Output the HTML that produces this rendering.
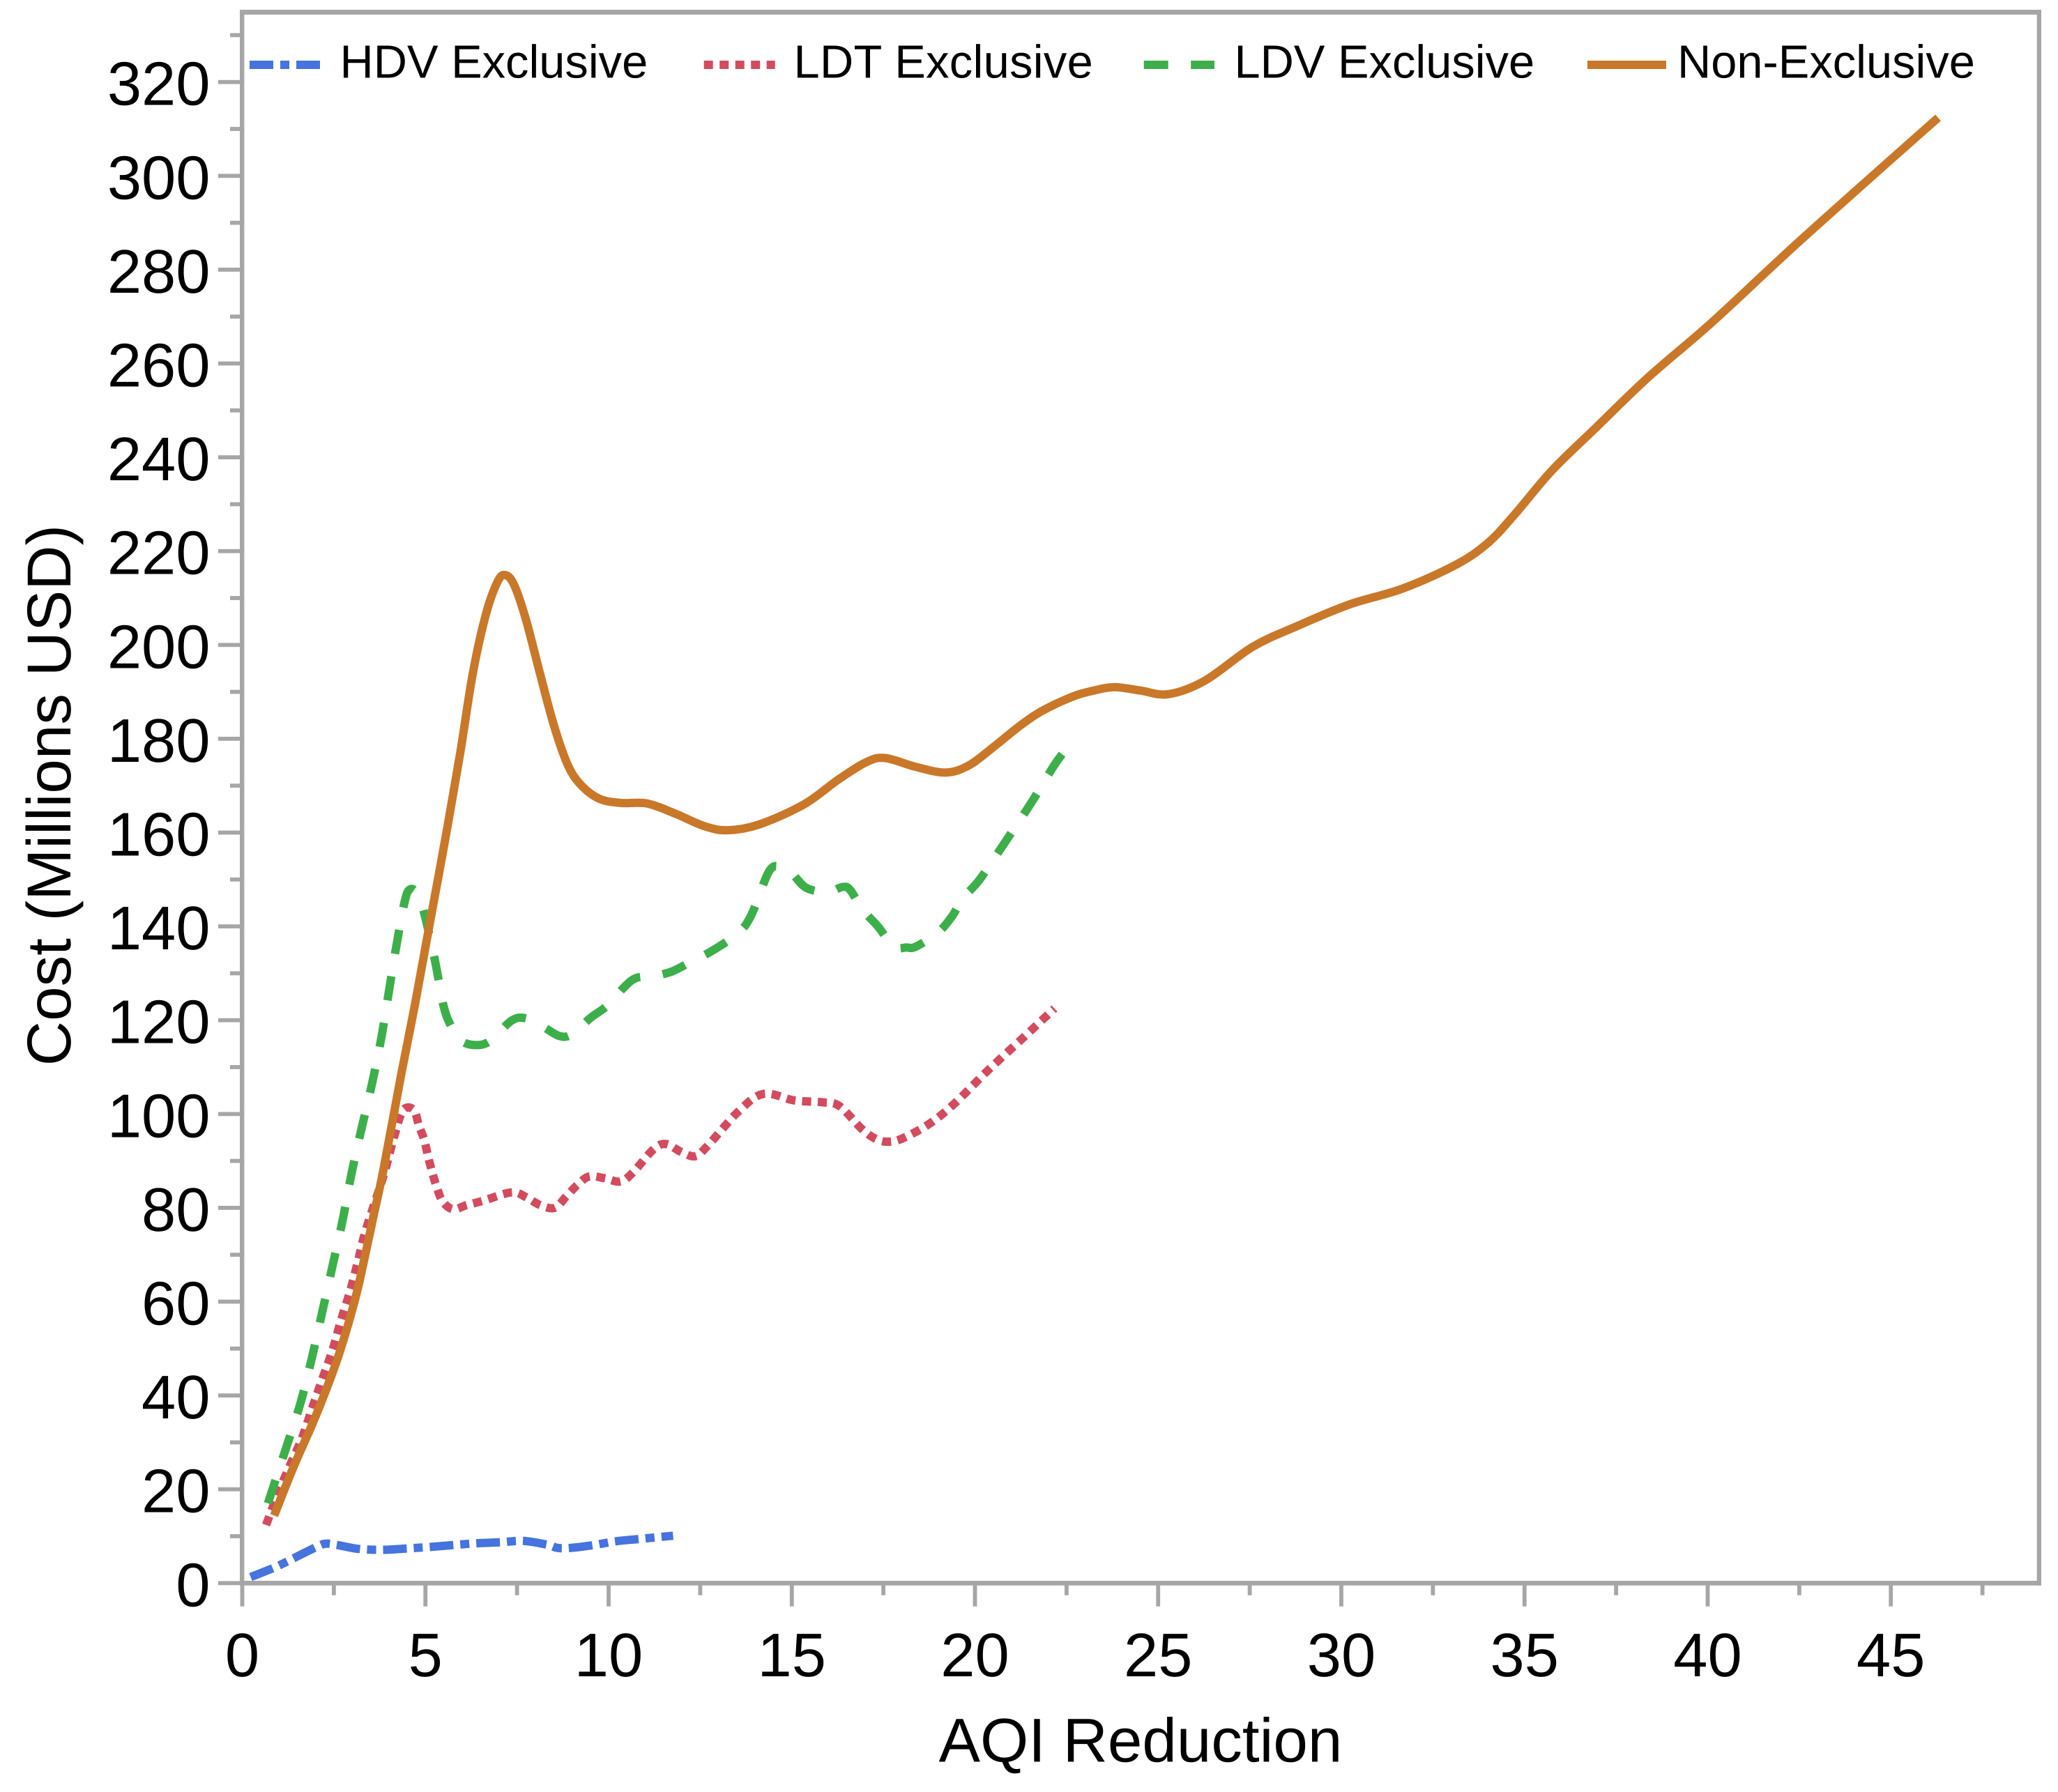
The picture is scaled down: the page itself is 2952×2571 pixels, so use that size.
<!DOCTYPE html>
<html lang="en">
<head>
<meta charset="utf-8">
<title>Cost vs AQI Reduction</title>
<style>
html,body{margin:0;padding:0;background:#fff;}
svg{display:block;}
text{font-family:"Liberation Sans",Arial,sans-serif;fill:#000;text-rendering:geometricPrecision;}
.tick-label{font-size:88.5px;}
.axis-title{font-size:89px;}
.legend-label{font-size:66.8px;}
</style>
</head>
<body>
<svg id="chart" xmlns="http://www.w3.org/2000/svg" width="2952" height="2571" viewBox="0 0 2952 2571">
  <rect x="0" y="0" width="2952" height="2571" fill="#ffffff"/>
  <g id="ticks"></g>
  <g id="series"></g>
  <g id="frame" fill="#a6a6a6">
    <rect x="344" y="14" width="2584" height="7"/>
    <rect x="2921.7" y="14" width="6.3" height="2260.7"/>
    <rect x="344" y="14" width="6.4" height="2260.7"/>
    <rect x="344" y="2268" width="2584" height="6.7"/>
  </g>
  <g id="legend">
    <g>
      <line x1="358" y1="93" x2="459" y2="93" stroke="#4673de" stroke-width="12" stroke-dasharray="34 10 13 10"/>
      <text class="legend-label" x="487.5" y="111.5">HDV Exclusive</text>
    </g>
    <g>
      <line x1="1009.7" y1="93" x2="1111.7" y2="93" stroke="#d34b5e" stroke-width="12" stroke-dasharray="13 9.5"/>
      <text class="legend-label" x="1138.5" y="111.5" style="letter-spacing:.3px">LDT Exclusive</text>
    </g>
    <g>
      <line x1="1640.7" y1="93" x2="1742" y2="93" stroke="#3daf4a" stroke-width="12" stroke-dasharray="35 32.5"/>
      <text class="legend-label" x="1770.5" y="111.5">LDV Exclusive</text>
    </g>
    <g>
      <line x1="2277" y1="93" x2="2390" y2="93" stroke="#c97829" stroke-width="12"/>
      <text class="legend-label" x="2406" y="111.5">Non-Exclusive</text>
    </g>
  </g>
  <text class="axis-title" x="1636" y="2527.5" text-anchor="middle">AQI Reduction</text>
  <text class="axis-title" x="0" y="0" text-anchor="middle" transform="translate(101 1141) rotate(-90)">Cost (Millions USD)</text>
</svg>
<script>
var xMajorTicks = [0, 5, 10, 15, 20, 25, 30, 35, 40, 45];
var xMinorTicks = [2.5, 7.5, 12.5, 17.5, 22.5, 27.5, 32.5, 37.5, 42.5, 47.5];
var yMajorTicks = [0, 20, 40, 60, 80, 100, 120, 140, 160, 180, 200, 220, 240, 260, 280, 300, 320];
var yMinorTicks = [10, 30, 50, 70, 90, 110, 130, 150, 170, 190, 210, 230, 250, 270, 290, 310, 330];

var hdvX = [0.23, 0.78, 1.12, 1.97, 2.27, 2.61, 3.16, 3.84, 4.52, 5.12, 5.75, 6.39, 7.03, 7.67, 8.31, 8.61, 8.95, 9.59, 10.18, 10.83, 11.76];
var hdvY = [1.3, 3, 4.2, 7.5, 8.4, 8.1, 7.3, 7.1, 7.4, 7.7, 8.1, 8.5, 8.7, 9, 8.2, 7.5, 7.5, 8.1, 8.9, 9.4, 10.1];

var ldtX = [0.65, 0.95, 1.29, 1.63, 1.9, 2.18, 2.46, 2.69, 2.95, 3.16, 3.37, 3.85, 4.15, 4.39, 4.68, 4.82, 4.97, 5.07, 5.18, 5.29, 5.46, 5.75, 6.13, 6.57, 7.35, 7.74, 8.13, 8.53, 8.85, 9.15, 9.47, 9.89, 10.32, 10.66, 11.24, 11.58, 11.96, 12.36, 12.7, 13.55, 14.23, 15.07, 15.84, 16.3, 16.9, 17.29, 17.65, 18.05, 18.77, 19.45, 20.34, 21.28, 22.17];
var ldtY = [12.4, 18.6, 24.9, 30.9, 37.1, 43.4, 49.6, 55.9, 62.4, 68.7, 75.2, 86.7, 95.3, 100.8, 100.9, 97.6, 94.4, 91, 87.7, 84.9, 81.5, 79.7, 80.6, 81.5, 83.3, 82.3, 80.6, 80, 82.5, 84.9, 86.7, 86.3, 85.6, 87.5, 92.6, 93.6, 92, 91, 93.2, 100.6, 104.3, 102.9, 102.5, 101.7, 96.9, 94.7, 94.1, 94.9, 98, 102.3, 109.2, 116, 122.5];

var ldvX = [0.7, 0.91, 1.2, 1.59, 1.9, 2.18, 2.46, 2.74, 2.98, 3.25, 3.54, 3.79, 4, 4.21, 4.44, 4.58, 4.78, 4.97, 5.26, 5.49, 5.69, 5.98, 6.38, 6.77, 7.35, 7.74, 8.23, 8.67, 9, 9.49, 9.98, 10.42, 10.75, 11.24, 11.73, 12.21, 12.87, 13.55, 13.9, 14.37, 14.67, 14.97, 15.4, 16, 16.38, 16.59, 16.93, 17.36, 17.78, 18.13, 18.39, 18.99, 19.37, 19.67, 20.13, 20.86, 21.54, 22.22, 22.72];
var ldvY = [17, 22, 28.9, 38.4, 48, 57.7, 67.5, 77.4, 87.2, 96.7, 106.4, 116, 126, 136, 145.5, 147.9, 147, 142.7, 132.7, 123.2, 118.9, 115.6, 114.7, 115.6, 119.9, 120.4, 118.5, 116.6, 117, 120.4, 123.2, 127, 129, 129.4, 130.4, 132.3, 135, 138.7, 142.5, 151.6, 152.8, 151.6, 148.2, 147.4, 148.4, 147.8, 143.6, 139.9, 135.7, 135.5, 135.7, 138.7, 142.1, 146, 150, 158.4, 166.4, 175, 179.9];

var nonX = [0.87, 1.38, 1.89, 2.23, 2.65, 3.08, 3.33, 3.59, 3.85, 4.34, 4.72, 5.12, 5.55, 5.95, 6.29, 6.65, 6.97, 7.18, 7.42, 7.74, 8.13, 8.52, 8.91, 9.3, 9.78, 10.36, 11.05, 11.83, 12.6, 13.24, 14.1, 15.33, 16.27, 17.03, 17.54, 18.39, 19.2, 19.83, 20.5, 21.2, 21.8, 22.64, 23.2, 23.8, 24.5, 25.28, 26.28, 27.58, 28.76, 30.21, 31.67, 33.13, 34.01, 34.73, 35.75, 36.92, 38.37, 40.12, 42.3, 44.5, 46.29];
var nonY = [14.4, 24.4, 33.5, 40, 49, 60.5, 69, 78.5, 88, 108.5, 123.6, 140.7, 159, 177, 193.8, 206.5, 213.5, 214.9, 212.8, 205.5, 193.8, 182.5, 174, 169.7, 167.1, 166.3, 166.2, 164, 161.4, 160.5, 161.7, 166, 171.3, 175, 175.9, 174, 172.8, 174.3, 178.2, 182.6, 185.8, 188.9, 190.2, 191, 190.3, 189.5, 192.4, 199.6, 203.9, 208.6, 212, 217.1, 221.8, 227.8, 237.2, 246.1, 257, 268.8, 284.6, 300, 312.4];

var SVG_NS = 'http://www.w3.org/2000/svg';

function xScale(v) { return 347.5 + v * 52.55; }
function yScale(v) { return 2271.3 - v * 6.73; }

function smoothPath(xs, ys) {
  var px = xs.map(xScale);
  var py = ys.map(yScale);
  var d = 'M' + px[0].toFixed(2) + ' ' + py[0].toFixed(2);
  for (var i = 0; i < px.length - 1; i++) {
    var a = Math.max(i - 1, 0), b = Math.min(i + 2, px.length - 1);
    var c1x = px[i] + (px[i + 1] - px[a]) / 6;
    var c1y = py[i] + (py[i + 1] - py[a]) / 6;
    var c2x = px[i + 1] - (px[b] - px[i]) / 6;
    var c2y = py[i + 1] - (py[b] - py[i]) / 6;
    d += 'C' + c1x.toFixed(2) + ' ' + c1y.toFixed(2) + ' ' + c2x.toFixed(2) + ' ' + c2y.toFixed(2) + ' ' + px[i + 1].toFixed(2) + ' ' + py[i + 1].toFixed(2);
  }
  return d;
}

var tickGroup = document.getElementById('ticks');
var seriesGroup = document.getElementById('series');

function addRect(x, y, w, h, name) {
  var r = document.createElementNS(SVG_NS, 'rect');
  r.setAttribute('x', x);
  r.setAttribute('y', y);
  r.setAttribute('width', w);
  r.setAttribute('height', h);
  r.setAttribute('fill', '#a6a6a6');
  
  
  tickGroup.appendChild(r);
}

function addText(x, y, anchor, label, name) {
  var t = document.createElementNS(SVG_NS, 'text');
  t.setAttribute('x', x);
  t.setAttribute('y', y);
  t.setAttribute('text-anchor', anchor);
  t.setAttribute('class', 'tick-label');
  
  
  t.textContent = label;
  tickGroup.appendChild(t);
}

yMajorTicks.forEach(function (v) {
  addRect(313, yScale(v) - 2.9, 33, 5.8, 'y-major-tick');
  addText(301.5, yScale(v) + 33, 'end', String(v), 'y-tick-label');
});
yMinorTicks.forEach(function (v) {
  addRect(330, yScale(v) - 2.9, 16, 5.8, 'y-minor-tick');
});
xMajorTicks.forEach(function (v) {
  addRect(xScale(v) - 2.9, 2272, 5.8, 32.7, 'x-major-tick');
  addText(xScale(v), 2405, 'middle', String(v), 'x-tick-label');
});
xMinorTicks.forEach(function (v) {
  addRect(xScale(v) - 2.9, 2272, 5.8, 16.7, 'x-minor-tick');
});

function addSeries(xs, ys, color, dash, name) {
  var p = document.createElementNS(SVG_NS, 'path');
  p.setAttribute('d', smoothPath(xs, ys));
  p.setAttribute('fill', 'none');
  p.setAttribute('stroke', color);
  p.setAttribute('stroke-width', '12');
  p.setAttribute('stroke-linejoin', 'round');
  p.setAttribute('stroke-linecap', 'butt');
  if (dash) { p.setAttribute('stroke-dasharray', dash); }
  
  
  seriesGroup.appendChild(p);
}

addSeries(hdvX, hdvY, '#4673de', '34 10 13 10', 'series-hdv-exclusive');
addSeries(ldtX, ldtY, '#d34b5e', '13 9.5', 'series-ldt-exclusive');
addSeries(ldvX, ldvY, '#3daf4a', '35 32.5', 'series-ldv-exclusive');
addSeries(nonX, nonY, '#c97829', '', 'series-non-exclusive');
</script>
</body>
</html>
